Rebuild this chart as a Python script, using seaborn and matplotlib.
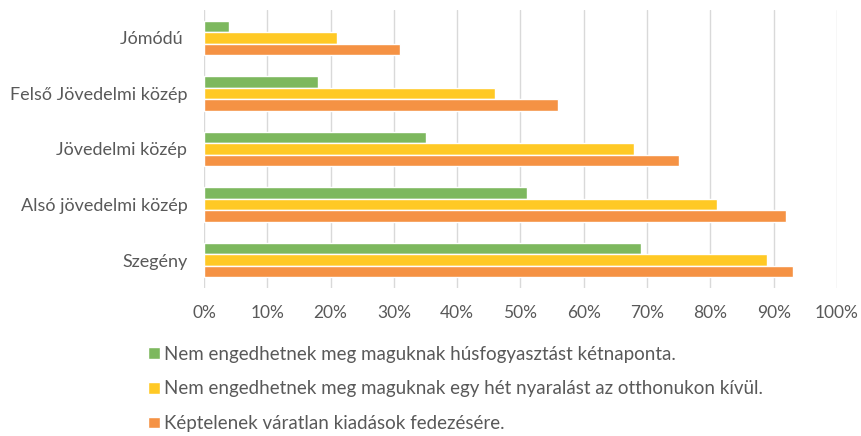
import matplotlib
matplotlib.use("Agg")
import matplotlib.pyplot as plt
import seaborn as sns
import pandas as pd
from matplotlib.ticker import PercentFormatter

categories = ["Jómódú ", "Felső Jövedelmi közép", "Jövedelmi közép", "Alsó jövedelmi közép", "Szegény"]
series_names = [
    "Nem engedhetnek meg maguknak húsfogyasztást kétnaponta.",
    "Nem engedhetnek meg maguknak egy hét nyaralást az otthonukon kívül.",
    "Képtelenek váratlan kiadások fedezésére.",
]
meat = [4, 18, 35, 51, 69]
holiday = [21, 46, 68, 81, 89]
unexpected = [31, 56, 75, 92, 93]
colors = ["#7DB85E", "#FFC925", "#F59244"]

rows = []
for name, vals in zip(series_names, [meat, holiday, unexpected]):
    for c, v in zip(categories, vals):
        rows.append({"cat": c, "series": name, "value": v})
df = pd.DataFrame(rows)

sns.set_style("white")
plt.rcParams["font.family"] = ["Lato", "DejaVu Sans"]
fig = plt.figure(figsize=(8.62, 4.36), dpi=100)
ax = fig.add_axes([204/862, 1-288/436, (837-204)/862, 278/436])
sns.barplot(data=df, y="cat", x="value", hue="series", order=categories,
            hue_order=series_names, palette=colors, saturation=1, orient="h", width=0.62,
            edgecolor="white", linewidth=1.0, ax=ax, legend=True)
ax.set_xlim(0, 100)
ax.set_xticks(range(0, 101, 10))
ax.xaxis.set_major_formatter(PercentFormatter(decimals=0))
ax.grid(axis="x", color="#D9D9D9", linewidth=1)
ax.set_axisbelow(True)
for s in ax.spines.values():
    s.set_visible(False)
ax.set_xlabel("")
ax.set_ylabel("")
ax.tick_params(axis="both", length=0, colors="#595959")
ax.tick_params(axis="y", labelsize=13, pad=12)
ax.tick_params(axis="x", labelsize=12.5, pad=12)
handles, labels = ax.get_legend_handles_labels()
ax.get_legend().remove()
fig.legend(handles, labels, loc="upper left", bbox_to_anchor=(141/862, 1-338/436),
           frameon=False, fontsize=13.5, labelcolor="#595959", labelspacing=0.95,
           handlelength=0.6, handleheight=0.6, handletextpad=0.25, borderaxespad=0)
fig.savefig("out.png", dpi=100)
